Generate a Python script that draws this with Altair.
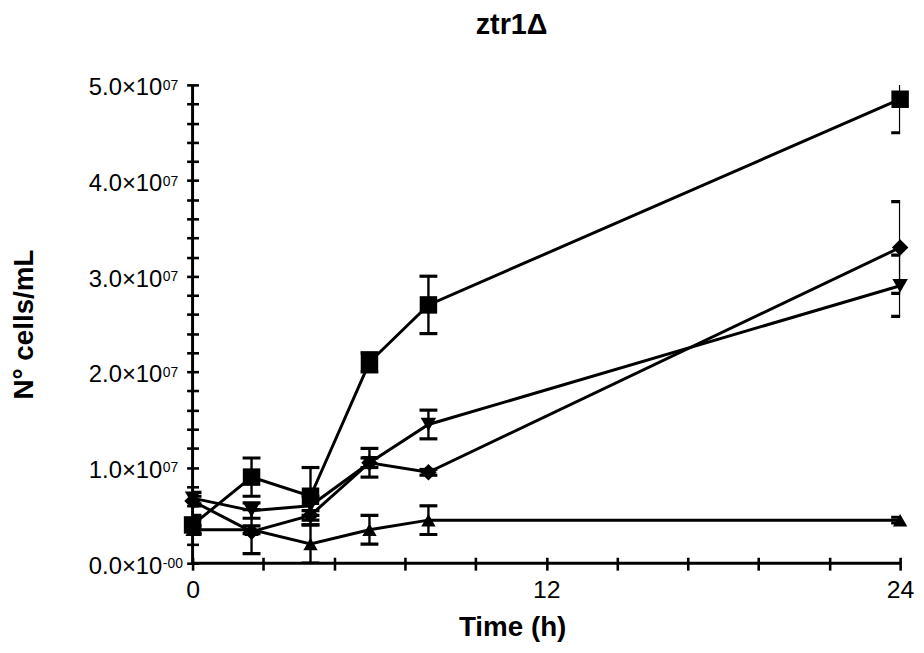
import altair as alt
import pandas as pd

# ---- data ----
time_h = [0, 2, 4, 6, 8, 24]
series_names = ["square", "diamond", "triangle_down", "triangle_up"]
sq_mean = [4.0e6, 9.0e6, 7.0e6, 2.1e7, 2.7e7, 4.85e7]
sq_err = [1.0e6, 2.0e6, 3.0e6, 1.0e6, 3.0e6, 3.5e6]
di_mean = [6.5e6, 3.3e6, 5.0e6, 1.05e7, 9.5e6, 3.3e7]
di_err = [0.5e6, 2.3e6, 0.5e6, 0.5e6, 0.3e6, 4.8e6]
td_mean = [6.8e6, 5.5e6, 6.0e6, 1.05e7, 1.45e7, 2.9e7]
td_err = [0.6e6, 0.8e6, 1.0e6, 1.5e6, 1.5e6, 3.2e6]
tu_mean = [3.5e6, 3.5e6, 2.0e6, 3.5e6, 4.5e6, 4.5e6]
tu_err = [0.4e6, 0.4e6, 2.0e6, 1.5e6, 1.5e6, 0.3e6]

shapes = ["square", "diamond", "triangle-down", "triangle-up"]
marker_sizes = [310, 210, 350, 310]

y_ticks = [i * 2e6 for i in range(26)]
x_ticks = [round(i * 2.4, 4) for i in range(11)]
y_label_values = [0, 1e7, 2e7, 3e7, 4e7, 5e7]
y_label_exponents = ["-00", "07", "07", "07", "07", "07"]
y_domain = [0, 5e7]
x_domain = [0, 24]

rows = []
for name, means, errs in zip(series_names,
                             [sq_mean, di_mean, td_mean, tu_mean],
                             [sq_err, di_err, td_err, tu_err]):
    for t, m, e in zip(time_h, means, errs):
        rows.append({"t": t, "series": name, "mean": m, "lo": m - e, "hi": m + e})
df = pd.DataFrame(rows)
exp_df = pd.DataFrame({"v": y_label_values, "e": y_label_exponents})

FONT = "Liberation Sans"

xscale = alt.Scale(domain=x_domain, nice=False, zero=False)
yscale = alt.Scale(domain=y_domain, nice=False, zero=False)

xaxis = alt.Axis(
    values=x_ticks, offset=-6, domain=False, grid=False, tickSize=13,
    labelExpr="(datum.value == 0 || datum.value == 12 || datum.value == 24) ? datum.value : ''",
    labelFontSize=25, labelPadding=8, labelOverlap=False, labelFlush=False,
    title="Time (h)", titleFontSize=28, titleX=322, titleY=79,
    titleBaseline="alphabetic", titleAnchor="start", titleAlign="center",
)
yaxis = alt.Axis(
    values=y_ticks, offset=-6, domain=False, grid=False, tickSize=12,
    labelExpr="(datum.value % 10000000 == 0) ? (format(datum.value/10000000, '.1f') + '×10') : ''",
    labelFontSize=24, labelPadding=25, labelOffset=3, labelOverlap=False, labelFlush=False,
    title="N° cells/mL", titleFontSize=28, titleX=-161, titleY=241, titleAngle=-90,
    titleBaseline="bottom", titleAlign="center", titleAnchor="start",
)


def X(field):
    return alt.X(field, scale=xscale, axis=xaxis)


def Y(field):
    return alt.Y(field, scale=yscale, axis=yaxis)


base = alt.Chart(df)

lines = base.mark_line(color="black", strokeWidth=3).encode(
    x=X("t:Q"), y=Y("mean:Q"), detail="series:N", order="t:Q",
)

err_rule = base.mark_rule(color="black", strokeWidth=2.4, opacity=1, clip=True).encode(
    x=X("t:Q"), y=Y("lo:Q"), y2="hi:Q"
)
cap_hi = base.mark_tick(color="black", orient="horizontal", size=18, opacity=1,
                        thickness=3.2, clip=True).encode(x=X("t:Q"), y=Y("hi:Q"))
cap_lo = base.mark_tick(color="black", orient="horizontal", size=18, opacity=1,
                        thickness=3.2, clip=True).encode(x=X("t:Q"), y=Y("lo:Q"))

points = base.mark_point(filled=True, color="black", opacity=1, strokeWidth=0).encode(
    x=X("t:Q"), y=Y("mean:Q"),
    shape=alt.Shape("series:N", scale=alt.Scale(domain=series_names, range=shapes), legend=None),
    size=alt.Size("series:N", scale=alt.Scale(domain=series_names, range=marker_sizes), legend=None),
)

axis_df = pd.DataFrame({"x0": [x_domain[0]], "x1": [x_domain[1]],
                        "y0": [y_domain[0]], "y1": [y_domain[1]]})
yline = alt.Chart(axis_df).mark_rule(color="black", strokeWidth=3).encode(
    x=X("x0:Q"), y=Y("y0:Q"), y2="y1:Q"
)
xline = alt.Chart(axis_df).mark_rule(color="black", strokeWidth=3).encode(
    x=X("x0:Q"), x2="x1:Q", y=Y("y0:Q")
)

exponents = alt.Chart(exp_df).mark_text(
    font=FONT, fontSize=14, color="black", align="left", baseline="top", dx=0, dy=-6,
).encode(
    x=alt.value(-30), y=Y("v:Q"), text="e:N"
)

chart = alt.layer(lines, err_rule, cap_hi, cap_lo, points, yline, xline, exponents).properties(
    width=713, height=482,
    autosize=alt.AutoSizeParams(type="none"),
    padding={"left": 186, "top": 75, "right": 16, "bottom": 86},
    title=alt.TitleParams(
        "ztr1Δ", font=FONT, fontSize=29, fontWeight="bold", color="black",
        anchor="middle", dx=-35, offset=36,
    ),
).configure_view(stroke=None).configure_axis(
    labelFont=FONT, labelColor="black", titleFont=FONT, titleColor="black",
    titleFontWeight="bold", tickColor="black", tickWidth=2.6,
    labelOverlap=False, labelFlush=False,
)

chart.save("out.html", embed_options={"renderer": "svg", "actions": False})
